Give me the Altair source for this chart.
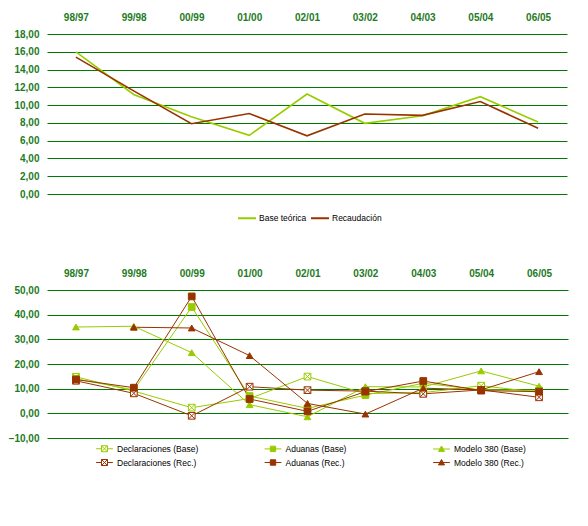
import altair as alt
import pandas as pd

cats = ["98/97", "99/98", "00/99", "01/00", "02/01", "03/02", "04/03", "05/04", "06/05"]

# Top chart series
base_teorica = [16.0, 11.2, 8.7, 6.6, 11.25, 7.95, 8.8, 10.95, 8.1]
recaudacion = [15.4, 11.6, 7.9, 9.05, 6.55, 9.0, 8.85, 10.4, 7.4]
top_names = ["Base teórica", "Recaudación"]

# Bottom chart series
decl_base = [14.8, 9.0, 2.3, 6.0, 14.9, 8.0, 8.4, 11.2, 8.5]
aduanas_base = [14.0, 9.5, 43.1, 7.0, 2.0, 7.4, 12.2, 9.5, 9.3]
modelo_base = [35.0, 35.3, 24.6, 3.5, -1.4, 10.8, 10.7, 17.2, 11.0]
decl_rec = [13.2, 8.1, -1.0, 10.8, 9.4, 9.0, 7.9, 9.5, 6.5]
aduanas_rec = [13.7, 10.4, 47.4, 5.8, 0.8, 8.8, 13.1, 9.2, 8.8]
modelo_rec = [None, 34.9, 34.6, 23.4, 4.0, -0.3, 10.2, 9.5, 16.9]
bottom_names = ["Declaraciones (Base)", "Aduanas (Base)", "Modelo 380 (Base)",
                "Declaraciones (Rec.)", "Aduanas (Rec.)", "Modelo 380 (Rec.)"]

GREEN = "#99CC00"
BROWN = "#993300"
GRID = "#007A00"
LABEL = "#1E7B1E"
AXIS_FONT = "Liberation Sans"
LEG_FONT = "Liberation Sans"

label_expr = "replace(format(datum.value, '.2f'), '.', ',')"

rows = []
for n, vals in zip(top_names, [base_teorica, recaudacion]):
    for c, v in zip(cats, vals):
        rows.append({"period": c, "serie": n, "value": v})
top_df = pd.DataFrame(rows)

rows = []
for n, vals in zip(bottom_names, [decl_base, aduanas_base, modelo_base,
                                  decl_rec, aduanas_rec, modelo_rec]):
    for c, v in zip(cats, vals):
        if v is not None:
            rows.append({"period": c, "serie": n, "value": v})
bot_df = pd.DataFrame(rows)

x_axis = alt.Axis(orient="top", labelAngle=0, domain=False, ticks=False, title=None,
                  labelFont=AXIS_FONT, labelFontSize=10, labelFontWeight="bold",
                  labelColor=LABEL, labelPadding=12)


def y_axis(vals):
    return alt.Axis(values=vals, grid=True, gridColor=GRID, gridWidth=1, domain=False,
                    ticks=False, title=None, labelExpr=label_expr, labelFont=AXIS_FONT,
                    labelFontSize=10, labelFontWeight="bold", labelColor=LABEL,
                    labelPadding=8)


top = alt.Chart(top_df).mark_line(strokeWidth=1.6).encode(
    x=alt.X("period:N", sort=cats, axis=x_axis),
    y=alt.Y("value:Q", scale=alt.Scale(domain=[0, 18], nice=False),
            axis=y_axis(list(range(0, 19, 2)))),
    color=alt.Color("serie:N", sort=top_names,
                    scale=alt.Scale(domain=top_names, range=[GREEN, BROWN]),
                    legend=alt.Legend(orient="none", legendX=190, legendY=174,
                                      direction="horizontal", title=None,
                                      symbolType="stroke", symbolSize=324,
                                      symbolStrokeWidth=2, labelFont=LEG_FONT,
                                      labelFontSize=8.5, labelColor="#000000",
                                      columnPadding=0, labelOffset=2)),
).properties(width=520, height=160)

bot_colors = [GREEN, GREEN, GREEN, BROWN, BROWN, BROWN]
bot_fills = ["#FFFFFF", GREEN, GREEN, "#FFFFFF", BROWN, BROWN]
mark_paths = [
    "M-1,-1L1,-1L1,1L-1,1Z M-1,-1L1,1 M1,-1L-1,1",
    "square", "triangle-up",
    "M-1,-1L1,-1L1,1L-1,1Z M-1,-1L1,1 M1,-1L-1,1",
    "square", "triangle-up",
]
leg_x = "M-1.4,0L-0.5,0M0.5,0L1.4,0M-0.5,-0.5L0.5,-0.5L0.5,0.5L-0.5,0.5Z M-0.5,-0.5L0.5,0.5M0.5,-0.5L-0.5,0.5"
leg_sq = "M-1.4,0L1.4,0M-0.45,-0.45L0.45,-0.45L0.45,0.45L-0.45,0.45Z"
leg_tri = "M-1.4,0L1.4,0M0,-0.5L0.5,0.4L-0.5,0.4Z"
leg_paths = [leg_x, leg_sq, leg_tri, leg_x, leg_sq, leg_tri]

xb = alt.X("period:N", sort=cats, axis=x_axis)
yb = alt.Y("value:Q", scale=alt.Scale(domain=[-10, 50], nice=False),
           axis=y_axis(list(range(-10, 51, 10))))

bot_lines = alt.Chart(bot_df).mark_line(strokeWidth=1).encode(
    x=xb, y=yb,
    color=alt.Color("serie:N", scale=alt.Scale(domain=bottom_names, range=bot_colors),
                    legend=None),
)
bot_points = alt.Chart(bot_df).mark_point(size=45, strokeWidth=1, opacity=1).encode(
    x=xb, y=yb,
    color=alt.Color("serie:N", scale=alt.Scale(domain=bottom_names, range=bot_colors),
                    legend=None),
    fill=alt.Fill("serie:N", scale=alt.Scale(domain=bottom_names, range=bot_fills),
                  legend=None),
    shape=alt.Shape("serie:N", scale=alt.Scale(domain=bottom_names, range=mark_paths),
                    legend=None),
)

leg_df = pd.DataFrame({"period": [cats[0]] * 6, "serie": bottom_names, "value": [1000] * 6})
leg_def = alt.Legend(orient="none", legendX=51, legendY=152, columns=3, gridAlign="all",
                     direction="horizontal",
                     title=None, symbolSize=144, symbolStrokeWidth=1,
                     labelFont=LEG_FONT, labelFontSize=8.5, labelColor="#000000",
                     columnPadding=63.5, rowPadding=2, labelOffset=6)
bot_legend = alt.Chart(leg_df).mark_point(size=45, strokeWidth=1, opacity=1, clip=True).encode(
    x=xb, y=yb,
    color=alt.Color("serie:N", scale=alt.Scale(domain=bottom_names, range=bot_colors),
                    legend=leg_def),
    fill=alt.Fill("serie:N", scale=alt.Scale(domain=bottom_names, range=bot_fills),
                  legend=leg_def),
    shape=alt.Shape("serie:N", scale=alt.Scale(domain=bottom_names, range=leg_paths),
                    legend=leg_def),
)

bottom = alt.layer(bot_lines, bot_points, bot_legend).resolve_scale(
    color="independent", fill="independent", shape="independent"
).properties(width=521, height=148)

chart = alt.vconcat(top, bottom, spacing=69).properties(
    padding={"left": 0, "top": 4, "right": 5, "bottom": 5}
).configure_view(strokeWidth=0)

chart.save("out.html", embed_options={"renderer": "svg", "actions": False})
